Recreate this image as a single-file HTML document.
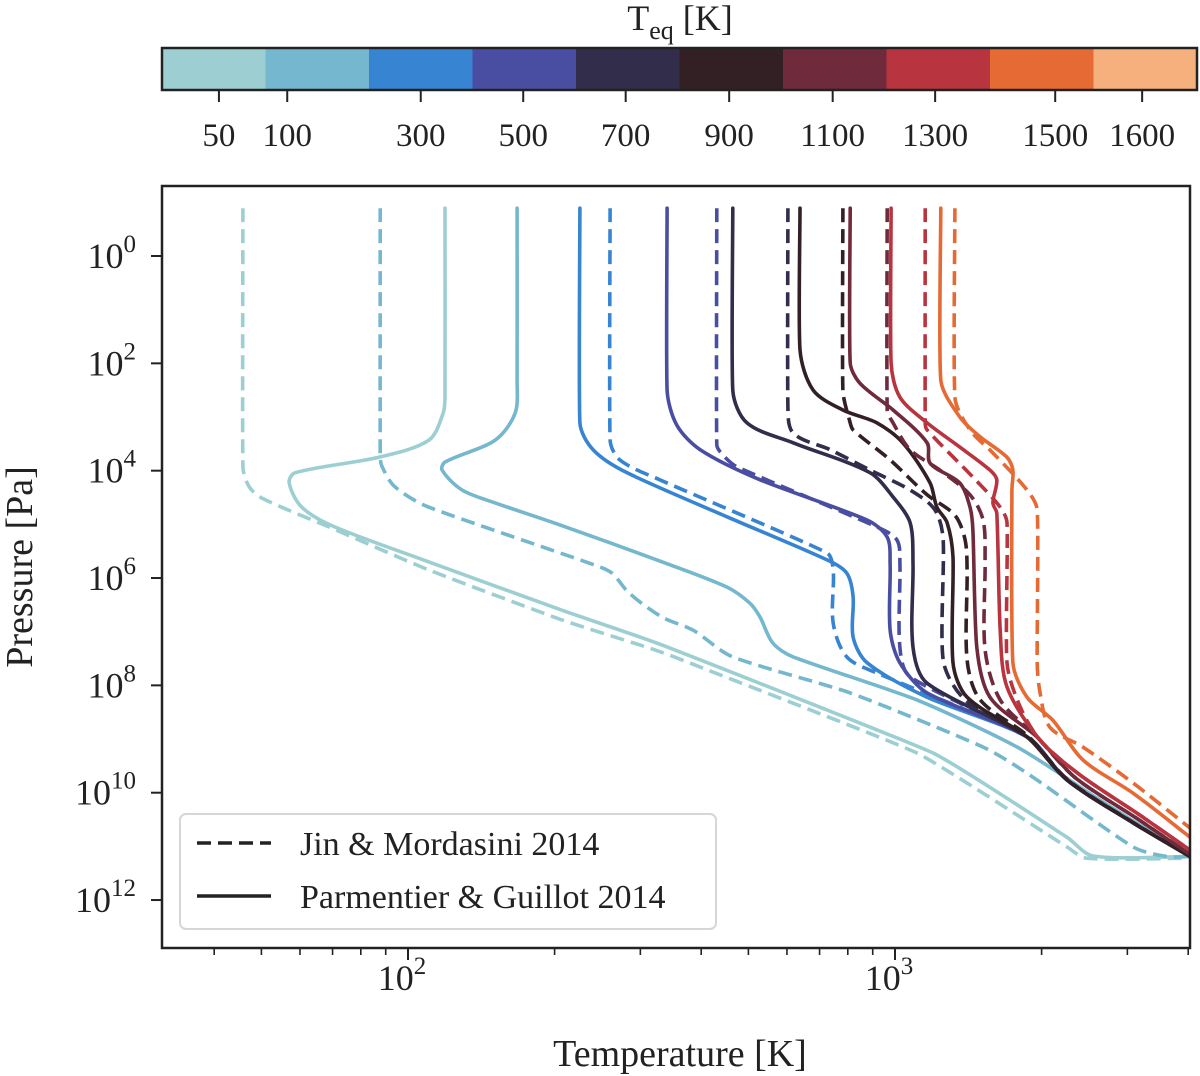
<!DOCTYPE html>
<html><head><meta charset="utf-8"><style>
html,body{margin:0;padding:0;background:#fff;}
svg{display:block;font-family:"Liberation Serif",serif;}
</style></head><body>
<svg id="chart" width="1200" height="1076" viewBox="0 0 1200 1076" xmlns="http://www.w3.org/2000/svg">
<g id="cbar"></g>
<g id="plot"></g>
</svg>
<script>
const teqValues = [50, 100, 300, 500, 700, 900, 1100, 1300, 1500, 1600];
const teqColors = ["#9dcfd2","#75b7ce","#3784d2","#4a4ea3","#312d4b","#332025","#6f2a3b","#b8353f","#e66a34","#f6b07e"];
const cbarTickLabels = ["50","100","300","500","700","900","1100","1300","1500","1600"];
// tick positions along the colorbar expressed as fraction of its length
const cbarTickFrac = [0.055, 0.121, 0.250, 0.349, 0.448, 0.548, 0.648, 0.747, 0.863, 0.947];

const yTickExp = [0, 2, 4, 6, 8, 10, 12];
const xMajorExp = [2, 3];
const xMinorVals = [40,50,60,70,80,90,200,300,400,500,600,700,800,900,2000,3000,4000];

// Parmentier & Guillot 2014 (solid): log10 T [K], log10 P [Pa]
const solidLogT = [
 [2.076,2.076,2.072,2.043,1.940,1.768,1.756,1.782,1.850,2.043,2.316,2.522,3.078,3.353,3.407,3.606],
 [2.224,2.224,2.220,2.179,2.076,2.070,2.111,2.179,2.312,2.522,2.655,2.702,2.723,2.749,2.791,3.045,3.251,3.421,3.606],
 [2.353,2.353,2.380,2.450,2.655,2.860,2.901,2.914,2.914,2.943,3.066,3.271,3.353,3.489,3.606],
 [2.532,2.532,2.552,2.600,2.723,2.943,2.984,2.990,2.990,3.010,3.066,3.271,3.353,3.489,3.606],
 [2.667,2.667,2.696,2.791,2.949,2.996,3.031,3.037,3.037,3.066,3.271,3.353,3.489,3.606],
 [2.805,2.805,2.832,2.893,2.963,3.016,3.072,3.086,3.107,3.119,3.119,3.148,3.271,3.353,3.489,3.606],
 [2.908,2.908,2.928,2.996,3.066,3.072,3.133,3.154,3.160,3.168,3.195,3.290,3.370,3.500,3.606],
 [2.992,2.992,3.010,3.066,3.133,3.195,3.209,3.201,3.209,3.216,3.230,3.298,3.380,3.503,3.606],
 [3.094,3.094,3.133,3.175,3.230,3.242,3.240,3.242,3.271,3.324,3.386,3.489,3.606]
];
const solidLogP = [
 [-0.89,2.59,2.93,3.43,3.75,4.04,4.23,4.68,5.05,5.70,6.60,7.25,9.26,10.83,11.18,11.19],
 [-0.89,2.31,2.93,3.43,3.84,3.99,4.36,4.60,5.01,5.70,6.17,6.47,6.73,7.21,7.47,8.27,9.15,10.14,11.19],
 [-0.89,3.11,3.61,4.04,4.86,5.66,5.91,6.35,7.10,7.58,8.22,8.96,9.76,10.56,11.19],
 [-0.89,2.50,3.15,3.61,4.17,4.92,5.24,5.72,6.97,7.58,8.14,8.96,9.76,10.56,11.19],
 [-0.89,2.50,3.11,3.48,4.04,4.49,4.97,5.72,7.29,7.96,8.96,9.76,10.56,11.19],
 [-0.89,1.75,2.50,2.87,3.11,3.48,4.23,4.68,4.97,5.61,7.58,8.22,8.96,9.76,10.56,11.19],
 [-0.89,1.99,2.37,2.87,3.48,3.86,4.23,4.68,5.11,7.29,8.22,8.95,9.72,10.50,11.15],
 [-0.89,1.99,2.63,3.11,3.56,3.99,4.17,4.60,4.79,6.97,8.03,9.02,9.67,10.42,11.07],
 [-0.89,2.31,3.00,3.37,3.75,3.99,4.36,7.58,8.22,8.65,9.39,10.01,10.83]
];
// Jin & Mordasini 2014 (dashed)
const dashedLogT = [
 [1.661,1.661,1.674,1.700,1.838,2.043,2.316,2.507,2.600,3.045,3.353,3.394,3.606],
 [1.943,1.943,1.947,1.973,2.043,2.384,2.419,2.454,2.522,2.585,2.667,2.908,3.181,3.283,3.489,3.559,3.606],
 [2.415,2.415,2.435,2.517,2.860,2.873,2.873,2.901,2.963,3.271,3.353,3.489,3.606],
 [2.634,2.634,2.647,2.676,2.963,3.004,3.010,3.010,3.031,3.271,3.353,3.489,3.606],
 [2.780,2.780,2.791,2.867,2.949,3.031,3.082,3.099,3.099,3.144,3.271,3.353,3.489,3.606],
 [2.893,2.893,2.908,2.914,2.990,3.066,3.123,3.144,3.148,3.148,3.175,3.275,3.355,3.490,3.606],
 [2.984,2.984,2.996,3.031,3.092,3.154,3.181,3.185,3.185,3.216,3.290,3.370,3.500,3.606],
 [3.062,3.062,3.066,3.160,3.216,3.230,3.230,3.257,3.298,3.380,3.503,3.606],
 [3.123,3.123,3.154,3.201,3.271,3.292,3.292,3.298,3.318,3.386,3.489,3.606]
];
const dashedLogP = [
 [-0.89,3.93,4.30,4.51,5.05,5.85,6.78,7.34,7.66,9.26,11.01,11.22,11.22],
 [-0.89,3.75,3.93,4.30,4.68,5.76,5.91,6.28,6.73,6.97,7.47,8.14,9.15,9.71,11.01,11.19,11.19],
 [-0.89,3.43,3.80,4.17,5.53,5.85,6.84,7.47,7.77,8.96,9.76,10.56,11.19],
 [-0.89,3.52,3.71,3.93,5.05,5.29,5.72,7.29,7.84,8.96,9.76,10.56,11.19],
 [-0.89,2.81,3.30,3.61,3.99,4.36,4.73,5.29,7.53,8.27,8.96,9.76,10.56,11.19],
 [-0.89,2.50,3.11,3.24,3.80,4.45,4.83,5.29,5.85,7.53,8.27,8.96,9.76,10.56,11.19],
 [-0.89,2.87,3.11,3.61,3.99,4.45,4.92,5.66,7.34,8.27,8.95,9.72,10.50,11.15],
 [-0.89,3.11,3.24,4.12,4.68,4.97,7.58,8.40,9.02,9.67,10.42,11.07],
 [-0.89,2.63,3.24,3.67,4.36,4.73,7.58,8.14,8.78,9.15,9.82,10.66]
];

const NS = "http://www.w3.org/2000/svg";
const X0 = 162, X1 = 1190, Y0 = 186, Y1 = 948;
function xScale(logT){ return 408 + (logT - 2) * 487; }
function yScale(logP){ return 256 + logP * 53.67; }
function mk(tag, attrs, parent){
  const e = document.createElementNS(NS, tag);
  for (const k in attrs) e.setAttribute(k, attrs[k]);
  parent.appendChild(e); return e;
}
const plot = document.getElementById("plot");
const cbar = document.getElementById("cbar");

// colorbar
const CB0 = 162, CB1 = 1197, CBT = 48, CBB = 90;
const segW = (CB1 - CB0) / teqColors.length;
teqColors.forEach((c, i) => {
  const r = mk("rect", {x: CB0 + i*segW, y: CBT, width: segW + 0.5, height: CBB - CBT, fill: c}, cbar);
  
  
});
const cbFrame = mk("rect", {x: CB0, y: CBT, width: CB1 - CB0, height: CBB - CBT, fill: "none", stroke: "#222", "stroke-width": 2.5}, cbar);


cbarTickLabels.forEach((lab, i) => {
  const x = CB0 + cbarTickFrac[i] * (CB1 - CB0);
  const t = mk("line", {x1: x, x2: x, y1: CBB, y2: CBB + 12, stroke: "#222", "stroke-width": 2}, cbar);
  
  
  const tx = mk("text", {x: x, y: 146, "text-anchor": "middle", "font-size": 33, fill: "#222"}, cbar);
  tx.textContent = lab;
  
  
});
const cbTitle = mk("text", {x: 680, y: 30, "text-anchor": "middle", "font-size": 36, fill: "#222"}, cbar);
cbTitle.innerHTML = 'T<tspan font-size="26" dy="9">eq</tspan><tspan dy="-9"> [K]</tspan>';



// clip
const defs = mk("defs", {}, plot);
const cp = mk("clipPath", {id: "clipA"}, defs);
mk("rect", {x: X0, y: Y0, width: X1 - X0, height: Y1 - Y0}, cp);
const lines = mk("g", {"clip-path": "url(#clipA)"}, plot);



// smooth path with handle length limited by the current segment (no overshoot)
function unit(a, b){ const dx = b[0]-a[0], dy = b[1]-a[1]; const L = Math.hypot(dx, dy) || 1; return [dx/L, dy/L]; }
function pathFrom(lt, lp){
  const P = lt.map((v, i) => [xScale(v), yScale(lp[i])]);
  let d = "M" + P[0][0].toFixed(1) + "," + P[0][1].toFixed(1);
  for (let i = 0; i < P.length - 1; i++) {
    const p0 = P[i - 1] || P[i], p1 = P[i], p2 = P[i + 1], p3 = P[i + 2] || P[i + 1];
    const L = Math.hypot(p2[0]-p1[0], p2[1]-p1[1]);
    const h = Math.min(L * 0.3, 25);
    const t1 = (i === 0) ? unit(p1, p2) : unit(p0, p2);
    const t2 = (i === P.length - 2) ? unit(p1, p2) : unit(p1, p3);
    const c1x = p1[0] + t1[0]*h, c1y = p1[1] + t1[1]*h;
    const c2x = p2[0] - t2[0]*h, c2y = p2[1] - t2[1]*h;
    d += " C" + c1x.toFixed(1) + "," + c1y.toFixed(1) + " " + c2x.toFixed(1) + "," + c2y.toFixed(1) + " " + p2[0].toFixed(1) + "," + p2[1].toFixed(1);
  }
  return d;
}
for (let i = 0; i < solidLogT.length; i++) {
  const d = mk("path", {d: pathFrom(dashedLogT[i], dashedLogP[i]), fill: "none", stroke: teqColors[i], "stroke-width": 3.6, "stroke-dasharray": "14 7", "stroke-linejoin": "round"}, lines);
  
  
  const s = mk("path", {d: pathFrom(solidLogT[i], solidLogP[i]), fill: "none", stroke: teqColors[i], "stroke-width": 3.6, "stroke-linejoin": "round", "stroke-linecap": "round"}, lines);
  
  
}

// axes frame
const frame = mk("rect", {x: X0, y: Y0, width: X1 - X0, height: Y1 - Y0, fill: "none", stroke: "#222", "stroke-width": 2.5}, plot);



// y ticks
yTickExp.forEach(e => {
  const y = yScale(e);
  const t = mk("line", {x1: X0 - 11, x2: X0, y1: y, y2: y, stroke: "#222", "stroke-width": 2}, plot);
  
  
  const tx = mk("text", {x: 136, y: y + 12, "text-anchor": "end", "font-size": 36, fill: "#222"}, plot);
  tx.innerHTML = '10<tspan font-size="25" dy="-16">' + e + '</tspan>';
  
  
});
// x ticks
xMajorExp.forEach(e => {
  const x = xScale(e);
  const t = mk("line", {x1: x, x2: x, y1: Y1, y2: Y1 + 12, stroke: "#222", "stroke-width": 2}, plot);
  
  
  const tx = mk("text", {x: x - 6, y: 990, "text-anchor": "middle", "font-size": 36, fill: "#222"}, plot);
  tx.innerHTML = '10<tspan font-size="25" dy="-16">' + e + '</tspan>';
  
  
});
xMinorVals.forEach(v => {
  const x = xScale(Math.log10(v));
  const t = mk("line", {x1: x, x2: x, y1: Y1, y2: Y1 + 7, stroke: "#222", "stroke-width": 1.6}, plot);
  
  
});
const xt = mk("text", {x: 680, y: 1066, "text-anchor": "middle", "font-size": 38, fill: "#222"}, plot);
xt.textContent = "Temperature [K]";


const yt = mk("text", {x: 0, y: 0, "text-anchor": "middle", "font-size": 38, fill: "#222", transform: "translate(32,567) rotate(-90)"}, plot);
yt.textContent = "Pressure [Pa]";



// legend
const lg = mk("g", {}, plot);


mk("rect", {x: 180, y: 814, width: 536, height: 115, rx: 6, fill: "#fff", "fill-opacity": 0.85, stroke: "#d6d6d6", "stroke-width": 2}, lg);
const l1 = mk("line", {x1: 197, x2: 271, y1: 843, y2: 843, stroke: "#222", "stroke-width": 3.6, "stroke-dasharray": "14 7"}, lg);


const t1 = mk("text", {x: 300, y: 855, "font-size": 34, fill: "#222"}, lg);
t1.textContent = "Jin & Mordasini 2014";


const l2 = mk("line", {x1: 197, x2: 271, y1: 896, y2: 896, stroke: "#222", "stroke-width": 3.6}, lg);


const t2 = mk("text", {x: 300, y: 908, "font-size": 34, fill: "#222"}, lg);
t2.textContent = "Parmentier & Guillot 2014";


</script>
</body></html>
